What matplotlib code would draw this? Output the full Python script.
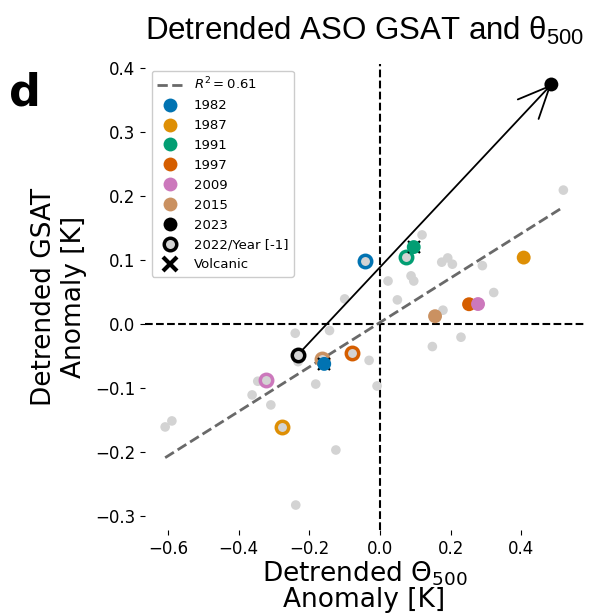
import matplotlib
matplotlib.use("Agg")
import matplotlib.pyplot as plt
from matplotlib.lines import Line2D
import numpy as np

plt.rcParams['mathtext.rm'] = 'Liberation Sans'
plt.rcParams['mathtext.it'] = 'Liberation Sans:italic'

# background years (detrended Theta500 anomaly, detrended GSAT anomaly)
gray_x = [-0.240, -0.143, -0.100, -0.232, -0.031, -0.0085, -0.182, -0.346, -0.362,
          -0.309, -0.589, -0.608, -0.125, -0.2385, 0.5186, 0.1188, 0.1745, 0.1915,
          0.2046, 0.2895, 0.0226, 0.0877, 0.0953, 0.049, 0.3216, 0.178, 0.229, 0.148]
gray_y = [-0.0146, -0.0104, 0.039, -0.059, -0.057, -0.097, -0.094, -0.0896, -0.111,
          -0.1266, -0.1516, -0.161, -0.197, -0.283, 0.209, 0.139, 0.0964, 0.103,
          0.0933, 0.091, 0.067, 0.075, 0.067, 0.0375, 0.049, 0.0214, -0.0208, -0.0354]

event_years = ['1982', '1987', '1991', '1997', '2009', '2015', '2023']
event_colors = ['#0173b2', '#de8f05', '#029e73', '#d55e00', '#cc78bc', '#ca9161', '#000000']
event_x = [-0.158, 0.4064, 0.0953, 0.2518, 0.2772, 0.1556, 0.4847]
event_y = [-0.0625, 0.1036, 0.120, 0.0307, 0.031, 0.012, 0.374]
prev_x = [-0.0424, -0.278, 0.0745, -0.078, -0.3225, -0.165, -0.232]
prev_y = [0.098, -0.161, 0.1047, -0.045, -0.087, -0.055, -0.048]
volcanic = [True, False, True, False, False, False, False]

fit_slope = 0.3476
fit_intercept = 0.0023
r2_label = '$R^2 = 0.61$'

xticks = [-0.6, -0.4, -0.2, 0.0, 0.2, 0.4]
yticks = [-0.3, -0.2, -0.1, 0.0, 0.1, 0.2, 0.3, 0.4]

fig = plt.figure(figsize=(5.89, 6.16), dpi=100)
ax = fig.add_axes([0.2462, 0.1396, 0.7453, 0.7565])

ax.axhline(0, color='black', ls='--', lw=1.5, zorder=1)
ax.axvline(0, color='black', ls='--', lw=1.5, zorder=1)

ax.scatter(gray_x, gray_y, s=48, color='lightgray', edgecolor='none', zorder=2)

fx = np.array([min(gray_x), max(gray_x)])
ax.plot(fx, fit_slope * fx + fit_intercept, ls='--', color='dimgray', lw=2, zorder=3)

# arrow from 2022 to 2023
ax.annotate('', xy=(event_x[-1], event_y[-1]), xytext=(prev_x[-1], prev_y[-1]),
            arrowprops=dict(arrowstyle='->,head_length=0.4,head_width=0.18',
                            mutation_scale=57, lw=1.3, color='black',
                            shrinkA=5, shrinkB=0), zorder=4)

for i, yr in enumerate(event_years):
    c = event_colors[i]
    ax.scatter([prev_x[i]], [prev_y[i]], s=80, facecolor='lightgray', edgecolor=c,
               linewidth=2.5, zorder=5)
    if volcanic[i]:
        ax.plot([event_x[i]], [event_y[i]], marker='x', ms=9, mew=1.6,
                color='black', ls='none', zorder=5.5)
    ax.scatter([event_x[i]], [event_y[i]], s=100, color=c, edgecolor='none', zorder=6)

ax.set_xlim(-0.665, 0.577)
ax.set_ylim(-0.322, 0.406)
ax.set_xticks(xticks)
ax.set_yticks(yticks)
ax.tick_params(labelsize=12)
for sp in ax.spines.values():
    sp.set_visible(False)

ax.set_xlabel('Detrended $\\Theta_{500}$\nAnomaly [K]', fontsize=19, labelpad=1,
              linespacing=0.95)
ax.set_ylabel('Detrended GSAT\nAnomaly [K]', fontsize=19, labelpad=6)
ax.set_title('Detrended ASO GSAT and θ$_{500}$', fontsize=22.5, family='Liberation Sans',
             math_fontfamily='custom', pad=17)

handles = [Line2D([], [], ls='--', color='dimgray', lw=2, label=r2_label)]
for i, yr in enumerate(event_years):
    handles.append(Line2D([], [], ls='none', marker='o', ms=10, color=event_colors[i],
                          mec='none', label=yr))
handles.append(Line2D([], [], ls='none', marker='o', ms=9, mfc='lightgray', mec='black',
                      mew=2.5, label='2022/Year [-1]'))
handles.append(Line2D([], [], ls='none', marker='x', ms=10, mew=3, color='black',
                      label='Volcanic'))
ax.legend(handles=handles, loc='upper left', fontsize=9.5, framealpha=1,
          labelspacing=0.52)

fig.text(0.015, 0.829, 'd', fontsize=32, fontweight='bold', ha='left', va='baseline')

fig.savefig('out.png', dpi=100)
